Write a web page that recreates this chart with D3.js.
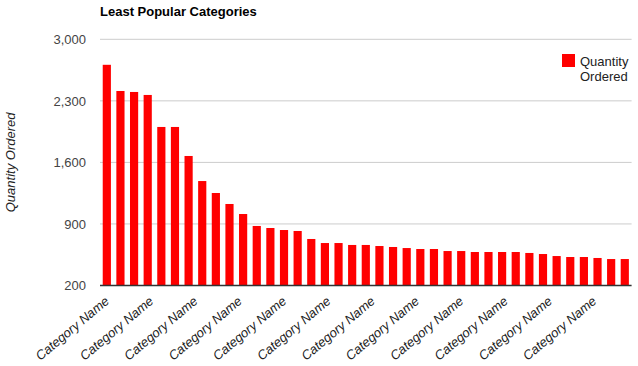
<!DOCTYPE html>
<html><head><meta charset="utf-8">
<script src="https://cdn.jsdelivr.net/npm/d3@7/dist/d3.min.js"></script>
<style>body{margin:0;background:#fff}svg{display:block;font-family:Arial,"Liberation Sans",sans-serif}</style>
</head><body><svg id="c" width="638" height="366"></svg>
<script>
const categories = d3.range(39).map(i => "Category Name " + (i + 1));
const quantity = [2710,2412,2401,2367,2003,2003,1673,1388,1252,1127,1013,877,854,831,820,729,683,683,661,661,
                  649,638,626,615,615,592,592,581,581,581,581,570,558,535,524,524,513,501,501];
const yTicks = [200, 900, 1600, 2300, 3000];
const xLabels = d3.range(12).map(() => "Category Name");
const title = "Least Popular Categories";
const yTitle = "Quantity Ordered";
const legendLines = ["Quantity", "Ordered"];

const svg = d3.select("#c");
const L = 100, R = 631.6, T = 39.3, B = 285.5;
const x = d3.scaleBand().domain(categories).range([L, R]).paddingInner(0.4).paddingOuter(0.2);
const y = d3.scaleLinear().domain([200, 3000]).range([B, T]);
const xl = d3.scaleBand().domain(d3.range(xLabels.length)).range([L, R]);

// gridlines
svg.append("g").selectAll("line").data(yTicks.slice(1)).join("line")
  .attr("x1", L).attr("x2", R).attr("y1", d => y(d)).attr("y2", d => y(d))
  .attr("stroke", "#cccccc").attr("stroke-width", 1);

// y axis labels
const ya = svg.append("g").attr("transform", `translate(${L},0)`)
  .call(d3.axisLeft(y).tickValues(yTicks).tickSize(0).tickPadding(14).tickFormat(d3.format(",")));
ya.select(".domain").remove();
ya.selectAll("text").attr("font-size", 13).attr("fill", "#444").attr("font-family", "Arial, 'Liberation Sans', sans-serif");

// bars
svg.append("g").selectAll("rect").data(quantity).join("rect")
  .attr("x", (d, i) => x(categories[i])).attr("width", x.bandwidth())
  .attr("y", d => y(d)).attr("height", d => B - y(d))
  .attr("fill", "#ff0000");

// baseline
svg.append("line").attr("x1", L).attr("x2", R).attr("y1", B).attr("y2", B)
  .attr("stroke", "#333").attr("stroke-width", 1.5);

// x labels
svg.append("g").selectAll("text").data(xLabels).join("text")
  .attr("transform", (d, i) => `translate(${xl(i) + 10},${B + 17}) rotate(-40)`)
  .attr("text-anchor", "end").attr("font-size", 13).attr("font-style", "italic")
  .attr("fill", "#222").text(d => d);

// title
svg.append("text").attr("x", L).attr("y", 16).attr("font-size", 13).attr("font-weight", "bold")
  .attr("fill", "#000").text(title);

// y title
svg.append("text").attr("transform", `translate(15,${(T + B) / 2}) rotate(-90)`)
  .attr("text-anchor", "middle").attr("font-size", 13).attr("font-style", "italic")
  .attr("fill", "#222").text(yTitle);

// legend
svg.append("rect").attr("x", 562).attr("y", 54).attr("width", 13).attr("height", 13).attr("fill", "#ff0000");
svg.append("g").selectAll("text").data(legendLines).join("text")
  .attr("x", 580).attr("y", (d, i) => 66 + i * 15).attr("font-size", 13).attr("fill", "#222").text(d => d);
</script></body></html>
